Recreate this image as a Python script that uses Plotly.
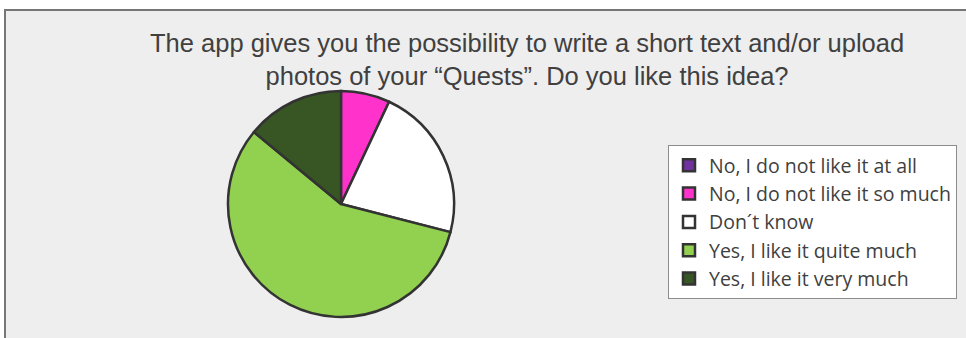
import plotly.graph_objects as go

W, H = 966, 338

# Survey answers (percent of respondents)
labels = [
    "No, I do not like it at all",
    "No, I do not like it so much",
    "Don´t know",
    "Yes, I like it quite much",
    "Yes, I like it very much",
]
values = [0, 7, 22, 57, 14]
colors = ["#7030A0", "#FF33CC", "#FFFFFF", "#92D050", "#375623"]

title_text = ("The app gives you the possibility to write a short text and/or upload<br>"
              "photos of your \u201cQuests\u201d. Do you like this idea?")

# pie placement in pixels
cx, cy, r = 341, 204, 113

fig = go.Figure(go.Pie(
    labels=labels,
    values=values,
    sort=False,
    direction="clockwise",
    rotation=0,
    textinfo="none",
    hoverinfo="label+percent",
    marker=dict(colors=colors, line=dict(color="#333333", width=2.5)),
    domain=dict(
        x=[(cx - r) / W, (cx + r) / W],
        y=[(H - cy - r) / H, (H - cy + r) / H],
    ),
    showlegend=True,
))

fig.update_layout(
    width=W,
    height=H,
    margin=dict(l=0, r=0, t=0, b=0),
    paper_bgcolor="#FFFFFF",
    font=dict(family="Liberation Sans, Arial, sans-serif", color="#404040"),
    shapes=[dict(
        type="rect", xref="paper", yref="paper", layer="below",
        x0=5 / W, x1=1.02, y0=-0.02, y1=(H - 10) / H,
        fillcolor="#EEEEEE", line=dict(color="#767676", width=2),
    )],
    annotations=[dict(
        text=title_text, xref="paper", yref="paper",
        x=527 / W, y=(H - 27) / H, xanchor="center", yanchor="top",
        showarrow=False, align="center",
        font=dict(size=25.5, color="#404040"),
    )],
    legend=dict(
        x=668 / W, y=(H - 145) / H, xanchor="left", yanchor="top",
        bgcolor="#FFFFFF", bordercolor="#8C8C8C", borderwidth=1,
        font=dict(size=19.5, color="#404040", family="Open Sans, sans-serif"),
        traceorder="normal",
    ),
)

fig.write_html("out.html")
